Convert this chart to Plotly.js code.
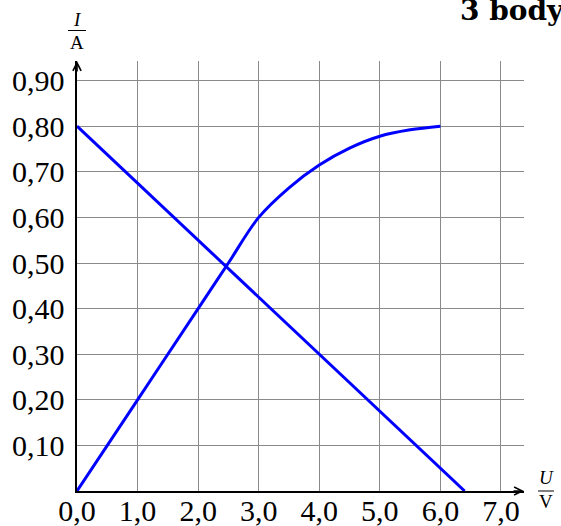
<!DOCTYPE html>
<html>
<head>
<meta charset="utf-8">
<script src="https://cdn.plot.ly/plotly-3.0.1.min.js"></script>
<style>html,body{margin:0;padding:0;background:#fff;}</style>
</head>
<body>
<div id="chart" style="width:561px;height:526px;"></div>
<script>
// Data
const curveU = [0, 1.0, 2.0, 2.5, 3.0, 3.5, 4.0, 4.5, 5.0, 5.5, 6.0];
const curveI = [0, 0.20, 0.40, 0.50, 0.60, 0.665, 0.715, 0.752, 0.778, 0.792, 0.800];
const loadU = [0, 6.4];
const loadI = [0.80, 0];
const xTickVals = [0, 1, 2, 3, 4, 5, 6, 7];
const xTickText = ['0,0', '1,0', '2,0', '3,0', '4,0', '5,0', '6,0', '7,0'];
const yTickVals = [0.1, 0.2, 0.3, 0.4, 0.5, 0.6, 0.7, 0.8, 0.9];
const yTickText = ['0,10', '0,20', '0,30', '0,40', '0,50', '0,60', '0,70', '0,80', '0,90'];
const titleText = '<b>3 body</b>';

const serif = 'Liberation Serif, DejaVu Serif, serif';
const lineStyle = {color: '#0000ff', width: 3};

const traces = [
  {x: curveU, y: curveI, mode: 'lines', line: Object.assign({shape: 'spline', smoothing: 1}, lineStyle), hoverinfo: 'skip'},
  {x: loadU, y: loadI, mode: 'lines', line: lineStyle, hoverinfo: 'skip'}
];

const layout = {
  width: 561, height: 526,
  margin: {l: 77, r: 37, t: 61, b: 34.5, pad: 0},
  paper_bgcolor: '#fff', plot_bgcolor: '#fff',
  showlegend: false,
  font: {family: serif, color: '#000'},
  title: {text: titleText, font: {family: 'DejaVu Serif, serif', size: 28, color: '#000'},
          x: 460 / 561, xref: 'container', xanchor: 'left', y: 0.999, yref: 'container', yanchor: 'top'},
  xaxis: {
    range: [0, 7.38], tickvals: xTickVals, ticktext: xTickText,
    showgrid: true, gridcolor: '#8a8a8a', gridwidth: 1,
    showline: true, linecolor: '#000', linewidth: 1.6, zeroline: false,
    ticks: '', ticklabelstandoff: -8,
    tickfont: {family: serif, size: 30, color: '#000'}, fixedrange: true
  },
  yaxis: {
    range: [0, 0.943], tickvals: yTickVals, ticktext: yTickText,
    showgrid: true, gridcolor: '#8a8a8a', gridwidth: 1,
    showline: true, linecolor: '#000', linewidth: 1.6, zeroline: false,
    ticks: '', ticklabelstandoff: 5,
    tickfont: {family: serif, size: 30, color: '#000'}, fixedrange: true
  },
  shapes: [
    {type: 'line', xref: 'paper', yref: 'paper', xsizemode: 'pixel', xanchor: 0, x0: -9, x1: 9,
     ysizemode: 'pixel', yanchor: 1, y0: 30.5, y1: 30.5, line: {color: '#000', width: 1}},
    {type: 'line', xref: 'paper', yref: 'paper', xsizemode: 'pixel', xanchor: 1, x0: 14, x1: 30,
     ysizemode: 'pixel', yanchor: 0, y0: 0, y1: 0, line: {color: '#000', width: 1}}
  ],
  annotations: [
    // axis arrowheads
    {xref: 'x', yref: 'y', x: 7.38, y: 0, ax: -12, ay: 0, axref: 'pixel', ayref: 'pixel', text: '',
     showarrow: true, arrowhead: 5, arrowsize: 1, arrowwidth: 1.6, arrowcolor: '#000'},
    {xref: 'x', yref: 'y', x: 0, y: 0.943, ax: 0, ay: 12, text: '',
     showarrow: true, arrowhead: 5, arrowsize: 1, arrowwidth: 1.6, arrowcolor: '#000'},
    // axis unit fractions
    {xref: 'paper', yref: 'paper', x: 0, y: 1, yshift: 29, xanchor: 'center', yanchor: 'bottom',
     text: '<i>I</i>', showarrow: false, font: {family: serif, size: 19, color: '#000'}},
    {xref: 'paper', yref: 'paper', x: 0, y: 1, yshift: 31, xanchor: 'center', yanchor: 'top',
     text: 'A', showarrow: false, font: {family: serif, size: 19, color: '#000'}},
    {xref: 'paper', yref: 'paper', x: 1, y: 0, xshift: 22, yshift: 1, xanchor: 'center', yanchor: 'bottom',
     text: '<i>U</i>', showarrow: false, font: {family: serif, size: 19, color: '#000'}},
    {xref: 'paper', yref: 'paper', x: 1, y: 0, xshift: 22, yshift: 2, xanchor: 'center', yanchor: 'top',
     text: 'V', showarrow: false, font: {family: serif, size: 19, color: '#000'}}
  ]
};

Plotly.newPlot('chart', traces, layout, {staticPlot: true, displayModeBar: false});
</script>
</body>
</html>
